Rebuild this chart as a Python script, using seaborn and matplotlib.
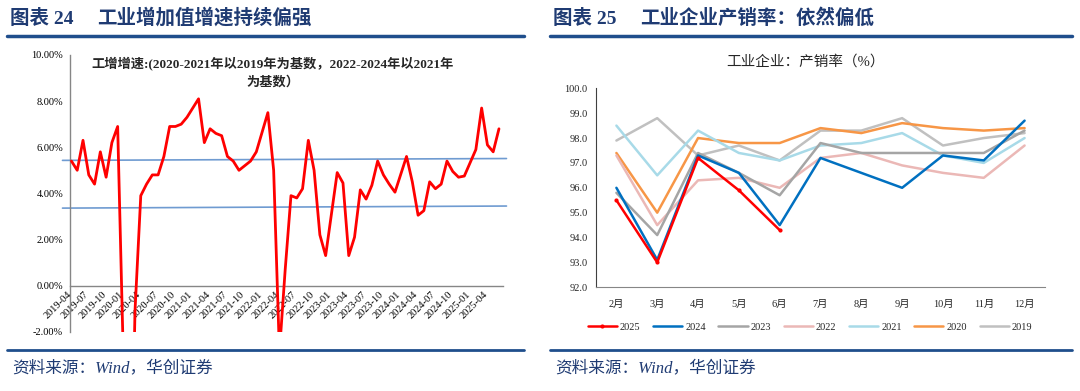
import numpy as np
import pandas as pd
import matplotlib
matplotlib.use('Agg')
import matplotlib.pyplot as plt
from matplotlib.lines import Line2D
import seaborn as sns

# 左图：工业增加值同比（%），2019-04 ~ 2025-06，1月无单独数据
ip_months = pd.period_range('2019-04', '2025-06', freq='M')
ip_values = [5.4, 5.0, 6.3, 4.8, 4.4, 5.8, 4.7, 6.2, 6.9,
             None, -13.5, -1.1, 3.9, 4.4, 4.8, 4.8, 5.6, 6.9, 6.9, 7.0, 7.3,
             None, 8.1, 6.2, 6.8, 6.6, 6.5, 5.6, 5.4, 5.0, 5.2, 5.4, 5.8,
             None, 7.5, 5.0, -2.9, 0.7, 3.9, 3.8, 4.2, 6.3, 5.0, 2.2, 1.3,
             None, 4.9, 4.45, 1.3, 2.1, 4.15, 3.75, 4.35, 5.4, 4.8, 4.4, 4.05,
             None, 5.6, 4.5, 3.05, 3.25, 4.5, 4.2, 4.4, 5.4, 4.95, 4.7, 4.75,
             None, 5.9, 7.7, 6.1, 5.8, 6.8]
ip_ticks = [str(p) for p in ip_months[::3]]
# 两条手绘参考线（左端值, 右端值）
ref_x = [-1.55, 75.3]
ref_hi = [5.43, 5.51]
ref_lo = [3.36, 3.45]

# 右图：工业企业产销率（%）
months = ['2月', '3月', '4月', '5月', '6月', '7月', '8月', '9月', '10月', '11月', '12月']
sales_2025 = [95.5, 93.0, 97.2, 95.9, 94.3]
sales_2024 = [96.0, 93.1, 97.3, 96.6, 94.5, 97.2, 96.6, 96.0, 97.3, 97.1, 98.7]
sales_2023 = [95.8, 94.1, 97.4, 96.6, 95.7, 97.8, 97.4, 97.4, 97.4, 97.4, 98.3]
sales_2022 = [97.3, 94.5, 96.3, 96.4, 96.0, 97.2, 97.4, 96.9, 96.6, 96.4, 97.7]
sales_2021 = [98.5, 96.5, 98.3, 97.4, 97.1, 97.7, 97.8, 98.2, 97.3, 97.0, 98.0]
sales_2020 = [97.4, 95.0, 98.0, 97.8, 97.8, 98.4, 98.2, 98.6, 98.4, 98.3, 98.4]
sales_2019 = [97.9, 98.8, 97.3, 97.7, 97.1, 98.3, 98.3, 98.8, 97.7, 98.0, 98.2]

sales = {'2019': sales_2019, '2020': sales_2020, '2021': sales_2021, '2022': sales_2022,
         '2023': sales_2023, '2024': sales_2024, '2025': sales_2025}
colors = {'2025': '#FF0000', '2024': '#0070C0', '2023': '#A5A5A5', '2022': '#EBB8B6',
          '2021': '#A8DAE8', '2020': '#F79646', '2019': '#C0C0C0'}

sns.set_style('white')
plt.rcParams['font.family'] = ['Liberation Serif', 'Noto Sans CJK SC', 'DejaVu Sans']
plt.rcParams['axes.unicode_minus'] = False

W, H = 1080, 391
fig = plt.figure(figsize=(W / 100, H / 100), dpi=100)

def fx(x):
    return x / W

def fy(y):
    return 1 - y / H

navy = '#1F3B73'

# ---------- 左图 ----------
ax1 = fig.add_axes([fx(70), fy(331.7), fx(433.3), (331.7 - 55) / H])
df_ip = pd.DataFrame({'idx': np.arange(len(ip_values)), 'val': ip_values}).dropna()

for yv in (ref_hi, ref_lo):
    ax1.plot(ref_x, yv, color='#6F9BD1', lw=1.2, clip_on=False, zorder=2)
sns.lineplot(data=df_ip, x='idx', y='val', ax=ax1, color='#FF0000', lw=2, zorder=3)

ax1.set_ylim(-2, 10)
ax1.set_xlim(-0.25, 74.75)
ax1.set_yticks(np.arange(-2, 10.1, 2))
ax1.set_yticklabels([f'{v:.2f}%' for v in np.arange(-2, 10.1, 2)])
xt = np.arange(26) * 3 - 0.25
ax1.set_xticks(xt)
ax1.set_xticklabels(ip_ticks + [''])
ax1.spines['bottom'].set_position(('data', 0))
for s in ('top', 'right'):
    ax1.spines[s].set_visible(False)
for s in ('left', 'bottom'):
    ax1.spines[s].set_color('#868686')
    ax1.spines[s].set_linewidth(1)
ax1.tick_params(axis='both', direction='out', length=3, color='#868686',
                labelsize=7.5, labelcolor='#000000')
ax1.tick_params(axis='x', pad=2, labelrotation=45)
ax1.tick_params(axis='y', pad=2)
plt.setp(ax1.get_xticklabels(), ha='right', va='center', rotation_mode='anchor')
ax1.set_xlabel('')
ax1.set_ylabel('')

fig.text(fx(273), fy(72.5), '工增增速:(2020-2021年以2019年为基数，2022-2024年以2021年\n为基数）',
         ha='center', va='center', fontsize=9.5, color='#262626', linespacing=1.5,
         weight='bold')

# ---------- 右图 ----------
ax2 = fig.add_axes([fx(596), fy(287.3), fx(449), (287.3 - 88.3) / H])
rows = []
for yr, vals in sales.items():
    for i, v in enumerate(vals):
        rows.append({'year': yr, 'm': i, 'val': v})
df_s = pd.DataFrame(rows)

for yr in ['2019', '2020', '2021', '2022', '2023', '2024', '2025']:
    d = df_s[df_s['year'] == yr]
    kw = dict(marker='o', markersize=3, markeredgewidth=0) if yr == '2025' else {}
    sns.lineplot(data=d, x='m', y='val', ax=ax2, color=colors[yr], lw=1.8,
                 label=yr, **kw)

ax2.set_xlim(-0.5, 10.5)
ax2.set_ylim(92, 100)
ax2.set_yticks(np.arange(92, 100.1, 1))
ax2.set_yticklabels([f'{v:.1f}' for v in np.arange(92, 100.1, 1)])
ax2.set_xticks(np.arange(-0.5, 10.6, 1))
ax2.set_xticklabels([])
ax2.set_xticks(np.arange(11), minor=True)
ax2.set_xticklabels(months, minor=True)
ax2.tick_params(axis='x', which='minor', length=0, pad=9, labelsize=7.5)
ax2.tick_params(axis='x', which='major', direction='out', length=3, color='#868686')
ax2.tick_params(axis='y', direction='out', length=3, color='#404040', labelsize=7.5, pad=3)
for s in ('top', 'right'):
    ax2.spines[s].set_visible(False)
ax2.spines['left'].set_color('#404040')
ax2.spines['bottom'].set_color('#868686')
ax2.set_xlabel('')
ax2.set_ylabel('')

handles, labels = ax2.get_legend_handles_labels()
order = [labels.index(y) for y in ['2025', '2024', '2023', '2022', '2021', '2020', '2019']]
ax2.legend([handles[i] for i in order], [labels[i] for i in order],
           loc='center', bbox_to_anchor=(fx(810), fy(327)), bbox_transform=fig.transFigure,
           ncol=7, frameon=False, fontsize=7.5, handlelength=2.8, handletextpad=0.3,
           columnspacing=1.2)

fig.text(fx(805), fy(61.5), '工业企业：产销率（%）', ha='center', va='center',
         fontsize=10.5, color='#262626')

# ---------- 页眉与来源 ----------
for x0, num, title in [(10, '图表 24', '工业增加值增速持续偏强'),
                       (553, '图表 25', '工业企业产销率：依然偏低')]:
    fig.text(fx(x0), fy(18), num, fontsize=14, weight='bold', color=navy, va='center')
    fig.text(fx(x0 + 87), fy(18), title, fontsize=14, weight='bold', color=navy, va='center')
    fig.text(fx(x0 + 2), fy(368), '资料来源：Wind，华创证券', fontsize=12, style='italic',
             color=navy, va='center')

for x0, x1 in [(7, 524), (550, 1072)]:
    fig.add_artist(Line2D([fx(x0), fx(x1)], [fy(36), fy(36)], color='#1F4E8C', lw=2.5))
    fig.add_artist(Line2D([fx(x0), fx(x1)], [fy(350), fy(350)], color='#1F4E8C', lw=2))

fig.savefig('out.png', dpi=100)
